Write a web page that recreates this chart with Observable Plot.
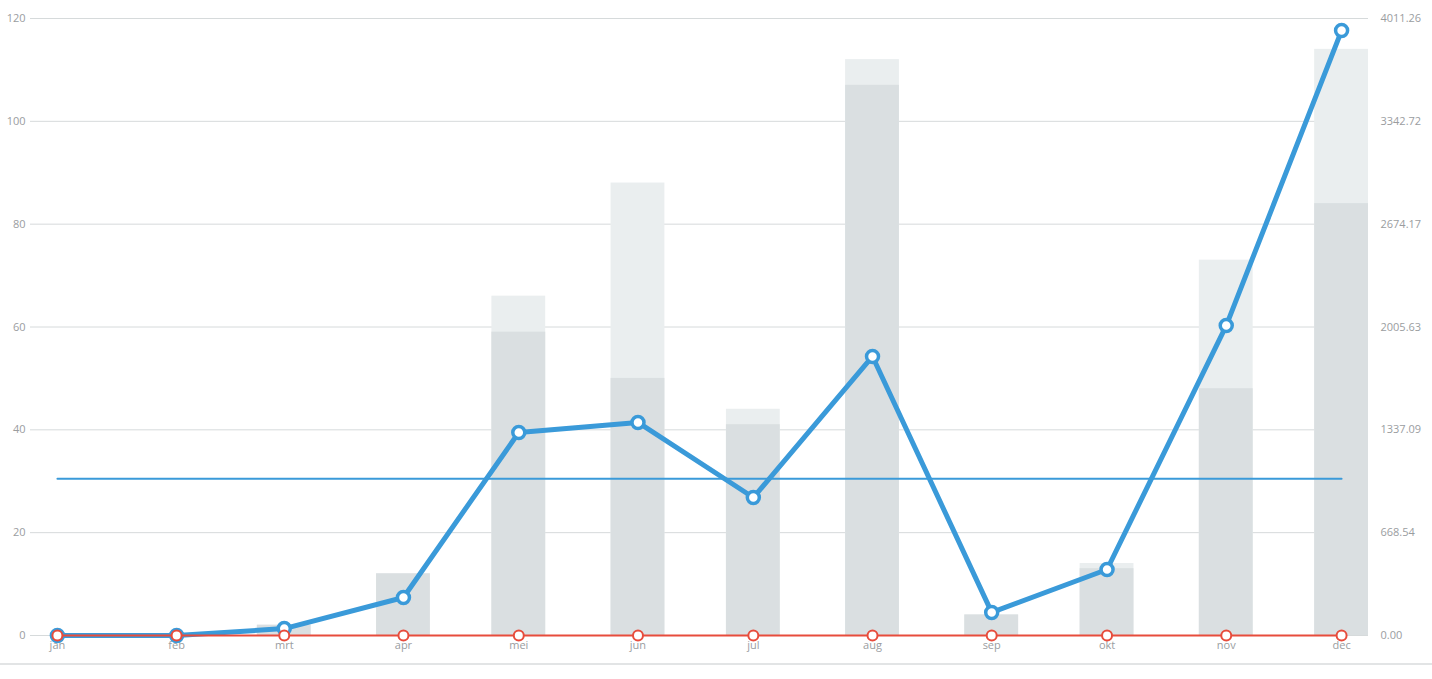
<!DOCTYPE html>
<html>
<head>
<meta charset="utf-8">
<script src="https://cdn.jsdelivr.net/npm/d3@7"></script>
<script src="https://cdn.jsdelivr.net/npm/@observablehq/plot@0.6"></script>
<style>
  html, body { margin: 0; padding: 0; background: #fff; }
  #chart { width: 1432px; border-bottom: 2px solid #e2e4e5; }
  #chart svg { display: block; }
</style>
</head>
<body>
<div id="chart"></div>
<script>
const year = 2015;
const months = ["jan", "feb", "mrt", "apr", "mei", "jun", "jul", "aug", "sep", "okt", "nov", "dec"];
const barTotal = [0, 0, 2, 12, 66, 88, 44, 112, 4, 14, 73, 114];
const barPart = [0, 0, 2, 12, 59, 50, 41, 107, 4, 13, 48, 84];
const revenue = [0, 0, 45, 247, 1320, 1385, 897, 1814, 150, 429, 2015, 3933];
const zeroSeries = [0, 0, 0, 0, 0, 0, 0, 0, 0, 0, 0, 0];
const leftTicks = [0, 20, 40, 60, 80, 100, 120];
const leftMax = 120;
const rightMax = 4011.26;
const barHalfDays = 7;

const toLeft = v => v / rightMax * leftMax;
const avgRevenue = d3.mean(revenue);
const dates = months.map((m, i) => new Date(Date.UTC(year, i, 1)));

const rows = months.map((m, i) => ({
  month: m,
  date: dates[i],
  x1: d3.utcDay.offset(dates[i], -barHalfDays),
  x2: d3.utcDay.offset(dates[i], barHalfDays),
  total: barTotal[i],
  part: barPart[i],
  rev: toLeft(revenue[i]),
  zero: zeroSeries[i],
  avg: toLeft(avgRevenue)
}));

const blue = "#3a9ad9";
const red = "#e74c3c";
const textColor = "#9a9d9f";

const plot = Plot.plot({
  width: 1432,
  height: 663,
  marginTop: 18,
  marginLeft: 30,
  marginRight: 64,
  marginBottom: 28,
  style: { fontFamily: "'Open Sans', sans-serif", fontSize: "11px", color: textColor, background: "#fff" },
  x: { type: "utc", domain: [rows[0].x1, rows[rows.length - 1].x2], label: null },
  y: { domain: [0, leftMax], label: null },
  marks: [
    Plot.gridY(leftTicks, { stroke: "#d6dadb", strokeOpacity: 1, strokeWidth: 1 }),
    Plot.rectY(rows, { x1: "x1", x2: "x2", y: "total", fill: "#eaeeef" }),
    Plot.rectY(rows, { x1: "x1", x2: "x2", y: "part", fill: "#dadfe1" }),
    Plot.axisY(leftTicks, { anchor: "left", tickSize: 0, tickPadding: 5, fill: textColor, label: null, fontSize: 11 }),
    Plot.axisY(leftTicks, { anchor: "right", tickSize: 0, tickPadding: 12, fill: textColor, label: null, fontSize: 11,
      tickFormat: d => (d / leftMax * rightMax).toFixed(2) }),
    Plot.axisX(dates, { tickSize: 0, tickPadding: 6, fill: textColor, label: null, fontSize: 11,
      tickFormat: d => months[d.getUTCMonth()] }),
    Plot.line(rows, { x: "date", y: "avg", stroke: blue, strokeWidth: 2 }),
    Plot.line(rows, { x: "date", y: "rev", stroke: blue, strokeWidth: 5, strokeLinejoin: "round" }),
    Plot.dot(rows, { x: "date", y: "rev", r: 6, fill: "#fff", stroke: blue, strokeWidth: 3.5 }),
    Plot.line(rows, { x: "date", y: "zero", stroke: red, strokeWidth: 2 }),
    Plot.dot(rows, { x: "date", y: "zero", r: 5, fill: "#fff", stroke: red, strokeWidth: 2 })
  ]
});
document.getElementById("chart").appendChild(plot);
</script>
</body>
</html>
